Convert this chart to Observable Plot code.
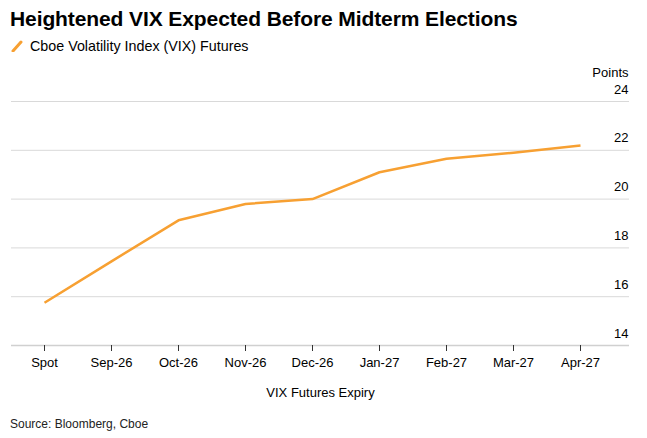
<!DOCTYPE html>
<html>
<head>
<meta charset="utf-8">
<script src="https://cdn.jsdelivr.net/npm/d3@7"></script>
<script src="https://cdn.jsdelivr.net/npm/@observablehq/plot@0.6"></script>
<style>
  body { margin: 0; background: #fff; font-family: "Liberation Sans", Arial, sans-serif; color: #000; }
  #wrap { position: relative; width: 647px; height: 438px; }
  #title { position: absolute; left: 10px; top: 7px; font-size: 21px; font-weight: bold; letter-spacing: -0.1px; white-space: nowrap; }
  #legend { position: absolute; left: 11px; top: 38px; font-size: 14.3px; white-space: nowrap; display: flex; align-items: center; }
  #legend svg { margin-right: 7px; }
  #chart { position: absolute; left: 0; top: 62px; }
  #source { position: absolute; left: 10px; top: 417px; font-size: 12px; color: #222; }
</style>
</head>
<body>
<div id="wrap">
  <div id="title">Heightened VIX Expected Before Midterm Elections</div>
  <div id="legend"><svg width="12" height="12"><line x1="2" y1="11" x2="10" y2="2" stroke="#f7a032" stroke-width="3" stroke-linecap="round"/></svg>Cboe Volatility Index (VIX) Futures</div>
  <div id="chart"></div>
  <div id="source">Source: Bloomberg, Cboe</div>
</div>
<script>
const categories = ["Spot", "Sep-26", "Oct-26", "Nov-26", "Dec-26", "Jan-27", "Feb-27", "Mar-27", "Apr-27"];
const values = [15.75, 17.45, 19.13, 19.8, 20.0, 21.1, 21.65, 21.9, 22.2];
const yTicks = [14, 16, 18, 20, 22, 24];
const seriesName = "Cboe Volatility Index (VIX) Futures";
const lineColor = "#f7a032";

const data = categories.map((c, i) => ({ expiry: c, value: values[i] }));

const chart = Plot.plot({
  width: 647,
  height: 345,
  marginTop: 39,
  marginBottom: 62,
  marginLeft: 11,
  marginRight: 18,
  style: { fontFamily: "Liberation Sans, Arial, sans-serif", fontSize: "13px", color: "#000", background: "#fff" },
  x: { type: "point", domain: categories, range: [43, 581], padding: 0, label: null },
  y: { domain: [14, 24], label: null, axis: null },
  marks: [
    Plot.ruleY(yTicks.filter(d => d !== 14), { stroke: "#d9d9d9", strokeWidth: 1 }),
    Plot.ruleY([14], { stroke: "#d0d0d0", strokeWidth: 1.5 }),
    Plot.text(yTicks, { y: d => d, text: d => String(d), frameAnchor: "right", textAnchor: "end", dx: -1, dy: -12, fontSize: 13, fill: "#000" }),
    Plot.text(["Points"], { frameAnchor: "top-right", lineAnchor: "middle", text: d => d, textAnchor: "end", dx: -1, dy: -29, fontSize: 13, fill: "#000" }),
    Plot.axisX({ ticks: categories, tickSize: 6, tickPadding: 6, fontSize: 13, stroke: "#333", fill: "#000", label: null }),
    Plot.text(["VIX Futures Expiry"], { frameAnchor: "bottom", text: d => d, dy: 51, fontSize: 13, fill: "#000" }),
    Plot.line(data, { x: "expiry", y: "value", stroke: lineColor, strokeWidth: 2.5, strokeLinejoin: "round", strokeLinecap: "butt" })
  ]
});
document.getElementById("chart").appendChild(chart);
</script>
</body>
</html>
